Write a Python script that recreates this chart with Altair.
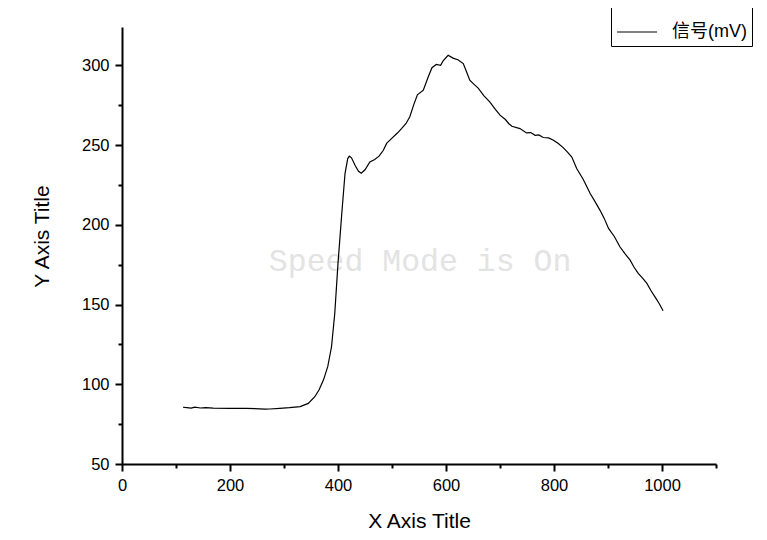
import altair as alt
import pandas as pd

# --- data ---
x_vals = [113, 120, 128, 135, 145, 155, 169, 200, 230, 255, 265, 274, 292, 310, 330,
          345, 357, 365, 373, 381, 388, 394, 400, 407, 413, 418, 421, 425, 432, 438,
          443, 450, 459, 468, 476, 484, 490, 499, 510, 518, 526, 533, 540, 547, 558,
          567, 574, 582, 590, 595, 604, 613, 622, 632, 638, 644, 652, 660, 670, 681,
          690, 700, 710, 716, 722, 737, 749, 757, 765, 772, 780, 790, 799, 808, 817,
          825, 833, 842, 854, 867, 876, 885, 893, 901, 912, 922, 931, 941, 948, 956,
          964, 972, 980, 987, 995, 1002]
y_vals = [85.6, 85.3, 85.0, 85.6, 85.1, 85.4, 85.0, 84.9, 84.9, 84.6, 84.4, 84.5, 84.9, 85.3, 86.0,
          88.0, 92.2, 96.5, 102.6, 111.0, 123.5, 144.4, 175.8, 207.1, 232.1, 241.5, 243.0, 242.0, 237.0, 233.5,
          232.3, 234.5, 239.4, 240.9, 243.0, 246.7, 251.0, 254.0, 257.5, 260.4, 263.5, 267.7, 275.0, 281.5, 284.4,
          292.7, 298.5, 300.5, 300.0, 303.0, 306.3, 304.5, 303.5, 301.1, 296.0, 290.7, 288.0, 285.5, 281.0, 277.0,
          273.0, 268.7, 266.0, 263.5, 261.8, 260.3, 257.6, 257.8, 256.1, 256.3, 254.7, 254.5, 253.0, 251.0, 248.4,
          245.5, 242.5, 235.3, 228.5, 219.6, 214.5, 209.2, 204.0, 197.7, 192.5, 186.2, 182.0, 177.8, 173.5, 169.5,
          166.5, 163.2, 158.5, 154.8, 150.5, 146.1]
series_name = "信号(mV)"
x_ticks = [0, 100, 200, 300, 400, 500, 600, 700, 800, 900, 1000, 1100]
y_ticks = [50, 75, 100, 125, 150, 175, 200, 225, 250, 275, 300]
watermark = "Speed Mode is On"
wm_x = [552]
wm_y = [176.5]

df = pd.DataFrame({"x": x_vals, "y": y_vals, "series": series_name})
wm_df = pd.DataFrame({"x": wm_x, "y": wm_y, "t": [watermark]})

xscale = alt.Scale(domain=[0, 1100], nice=False, zero=False)
yscale = alt.Scale(domain=[50, 324], nice=False, zero=False)

FONT = "Liberation Sans, Arial, Noto Sans CJK SC"

xaxis = alt.Axis(
    title="X Axis Title", values=x_ticks, format="d",
    labelExpr="datum.value % 200 === 0 ? datum.label : ''",
    tickSize={"condition": {"test": "datum.value % 200 === 0", "value": 7}, "value": 4},
    labelPadding=6, titleY=63, titleBaseline="alphabetic",
    labelOverlap=False, labelFlush=False, grid=False,
)
yaxis = alt.Axis(
    title="Y Axis Title", values=y_ticks, format="d",
    labelExpr="datum.value % 50 === 0 ? datum.label : ''",
    tickSize={"condition": {"test": "datum.value % 50 === 0", "value": 7}, "value": 4},
    labelPadding=6, titleX=-74, titleY=209, titleAngle=270,
    titleBaseline="alphabetic", titleAlign="center",
    labelOverlap=False, labelFlush=False, grid=False,
)

watermark_layer = alt.Chart(wm_df).mark_text(
    font="Liberation Mono", fontSize=31.5, color="#e3e3e3", fontWeight="normal"
).encode(
    x=alt.X("x:Q", scale=xscale, axis=xaxis),
    y=alt.Y("y:Q", scale=yscale, axis=yaxis),
    text="t:N",
)

line = alt.Chart(df).mark_line(strokeWidth=1.2, interpolate="linear").encode(
    x=alt.X("x:Q", scale=xscale, axis=xaxis),
    y=alt.Y("y:Q", scale=yscale, axis=yaxis),
    color=alt.Color(
        "series:N",
        scale=alt.Scale(domain=[series_name], range=["black"]),
        legend=alt.Legend(
            title=None, orient="none", legendX=489, legendY=-21,
            strokeColor="black", fillColor="white", padding=5,
            symbolType="stroke", symbolSize=1600, symbolStrokeWidth=1.2,
            labelFont=FONT, labelFontSize=18, labelColor="black", labelOffset=14,
        ),
    ),
)

chart = (watermark_layer + line).properties(
    width=594, height=437,
    autosize=alt.AutoSizeParams(type="none"),
    padding={"left": 114, "top": 19, "right": 37, "bottom": 66},
    background="white",
).configure_view(stroke=None).configure_axis(
    domainColor="black", domainWidth=2, tickColor="black", tickWidth=2,
    labelColor="black", labelFont=FONT, labelFontSize=16.5,
    titleColor="black", titleFont=FONT, titleFontSize=21, titleFontWeight="normal",
)

chart.save("out.html", embed_options={"renderer": "svg", "actions": False})
